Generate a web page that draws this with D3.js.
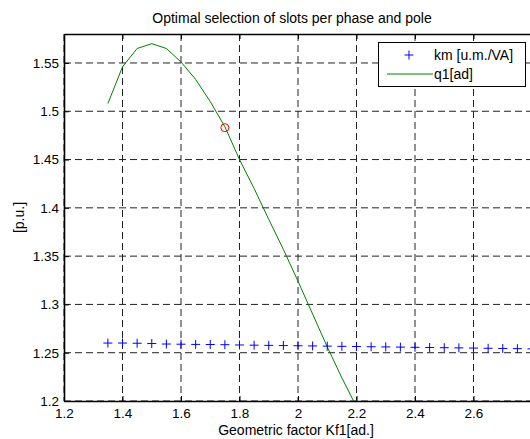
<!DOCTYPE html>
<html>
<head>
<meta charset="utf-8">
<script src="https://cdn.jsdelivr.net/npm/d3@7"></script>
<style>
  body { margin: 0; background: #fff; }
  text { font-family: "Liberation Sans", Arial, sans-serif; fill: #000; }
</style>
</head>
<body>
<div id="chart"></div>
<script>
// data
const kf1 = [1.35, 1.40, 1.45, 1.50, 1.55, 1.60, 1.65, 1.70, 1.75, 1.80,
             1.85, 1.90, 1.95, 2.00, 2.05, 2.10, 2.15, 2.20, 2.25, 2.30,
             2.35, 2.40, 2.45, 2.50, 2.55, 2.60, 2.65, 2.70, 2.75, 2.80];
const km = [1.2600, 1.2600, 1.2598, 1.2595, 1.2590, 1.2588, 1.2586, 1.2585, 1.2583, 1.2580,
            1.2578, 1.2576, 1.2574, 1.2572, 1.2570, 1.2568, 1.2566, 1.2564, 1.2562, 1.2560,
            1.2558, 1.2556, 1.2554, 1.2552, 1.2550, 1.2548, 1.2546, 1.2544, 1.2542, 1.2540];
const q1 = [1.508, 1.546, 1.565, 1.570, 1.565, 1.551, 1.533, 1.510, 1.484, 1.450,
            1.420, 1.388, 1.357, 1.324, 1.290, 1.256, 1.224, 1.194, 1.160];
const optimum = { x: 1.75, y: 1.483 };
const xTicks = [1.2, 1.4, 1.6, 1.8, 2.0, 2.2, 2.4, 2.6];
const xGridTicks = [1.2, 1.4, 1.6, 1.8, 2.0, 2.2, 2.4, 2.6, 2.8];
const yTicks = [1.2, 1.25, 1.3, 1.35, 1.4, 1.45, 1.5, 1.55];

const W = 530, H = 439;
const margin = { top: 34, right: -2, bottom: 38, left: 64 };
const width = W - margin.left - margin.right;
const height = H - margin.top - margin.bottom;

const x = d3.scaleLinear().domain([1.2, 2.8]).range([0, width]);
const y = d3.scaleLinear().domain([1.2, 1.58]).range([height, 0]);

const svg = d3.select("#chart")
  .append("svg")
    .attr("width", W)
    .attr("height", H);

svg.append("rect").attr("width", W).attr("height", H).attr("fill", "#fff");

const g = svg.append("g")
    .attr("transform", `translate(${margin.left},${margin.top})`);

svg.append("defs").append("clipPath").attr("id", "clip")
  .append("rect").attr("width", width).attr("height", height);

// gridlines
g.selectAll(".xGrid")
  .data(xGridTicks)
  .join("line")
  .attr("x1", d => x(d)).attr("x2", d => x(d))
  .attr("y1", 0).attr("y2", height)
  .attr("stroke", "#222").attr("stroke-width", 1)
  .attr("stroke-dasharray", "7,4");

g.selectAll(".yGrid")
  .data(yTicks)
  .join("line")
  .attr("x1", 0).attr("x2", width)
  .attr("y1", d => y(d)).attr("y2", d => y(d))
  .attr("stroke", "#222").attr("stroke-width", 1)
  .attr("stroke-dasharray", "7,4");

// axes (ticks inward)
const xAxis = g.append("g")
  .attr("transform", `translate(0,${height})`)
  .call(d3.axisBottom(x).tickValues(xTicks).tickSizeInner(-5).tickSizeOuter(0).tickPadding(7)
    .tickFormat(d => d3.format("")(+d.toFixed(1))));
const yAxis = g.append("g")
  .call(d3.axisLeft(y).tickValues(yTicks).tickSizeInner(-5).tickSizeOuter(0).tickPadding(5)
    .tickFormat(d => d3.format("")(+d.toFixed(2))));
const topAxis = g.append("g")
  .call(d3.axisTop(x).tickValues(xGridTicks).tickSizeInner(-5).tickSizeOuter(0).tickFormat(""));

[xAxis, yAxis, topAxis].forEach(a => {
  a.select(".domain").attr("stroke", "#000").attr("stroke-width", 1.6);
  a.selectAll(".tick line").attr("stroke", "#000");
  a.selectAll("text").attr("font-size", 13.5).attr("fill", "#222")
    .style("font-family", "'Liberation Sans', Arial, sans-serif");
});

const plot = g.append("g").attr("clip-path", "url(#clip)");

// q1 line
const line = d3.line()
  .x((d, i) => x(kf1[i]))
  .y(d => y(d));

plot.append("path")
  .datum(q1)
  .attr("fill", "none")
  .attr("stroke", "#008000")
  .attr("stroke-width", 1)
  .attr("d", line);

// km markers
plot.selectAll(".km")
  .data(km)
  .join("path")
  .attr("transform", (d, i) => `translate(${x(kf1[i])},${y(d)})`)
  .attr("d", "M-4.5,0H4.5M0,-4.5V4.5")
  .attr("stroke", "#0000ff")
  .attr("stroke-width", 1)
  .attr("fill", "none");

// optimum point
plot.append("circle")
  .attr("cx", x(optimum.x))
  .attr("cy", y(optimum.y))
  .attr("r", 4)
  .attr("fill", "none")
  .attr("stroke", "#ff0000")
  .attr("stroke-width", 1);

// title and labels
svg.append("text")
  .attr("x", 292).attr("y", 23)
  .attr("text-anchor", "middle")
  .attr("font-size", 14)
  .attr("fill", "#222")
  .text("Optimal selection of slots per phase and pole");

svg.append("text")
  .attr("x", 296).attr("y", 435)
  .attr("text-anchor", "middle")
  .attr("font-size", 14)
  .attr("fill", "#222")
  .text("Geometric factor Kf1[ad.]");

svg.append("text")
  .attr("transform", `translate(24,${margin.top + height / 2}) rotate(-90)`)
  .attr("text-anchor", "middle")
  .attr("font-size", 14)
  .attr("fill", "#222")
  .text("[p.u.]");

// legend
const legend = svg.append("g");
legend.append("rect")
  .attr("x", 378.5).attr("y", 42.5)
  .attr("width", 147).attr("height", 44)
  .attr("fill", "#fff").attr("stroke", "#000").attr("stroke-width", 1);
legend.append("path")
  .attr("transform", "translate(409,55)")
  .attr("d", "M-4.5,0H4.5M0,-4.5V4.5")
  .attr("stroke", "#0000ff").attr("fill", "none");
legend.append("line")
  .attr("x1", 387).attr("x2", 433).attr("y1", 74).attr("y2", 74)
  .attr("stroke", "#008000");
legend.append("text").attr("x", 434).attr("y", 60)
  .attr("font-size", 14).attr("fill", "#222").text("km [u.m./VA]");
legend.append("text").attr("x", 434).attr("y", 79)
  .attr("font-size", 14).attr("fill", "#222").text("q1[ad]");
</script>
</body>
</html>
